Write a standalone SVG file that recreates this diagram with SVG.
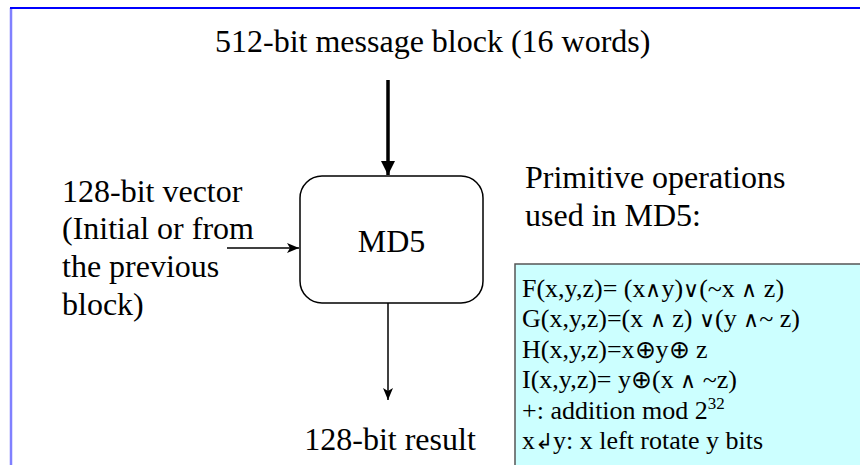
<svg xmlns="http://www.w3.org/2000/svg" width="860" height="465" viewBox="0 0 860 465">
<defs>
<style>
text{font-family:"Liberation Serif","Times New Roman",serif;fill:#000}
.big{font-size:32px}
.ops{font-size:26px}
.sym{font-family:"DejaVu Sans","Noto Sans",sans-serif;font-weight:200;font-size:22px}
.xor{font-family:"DejaVu Sans","Noto Sans",sans-serif;font-weight:200;font-size:25px}
.thin{stroke:#000;stroke-width:1.5;fill:none}
</style>
<marker id="thick" viewBox="0 0 10 10" refX="10" refY="5" markerWidth="4" markerHeight="4" orient="auto" markerUnits="strokeWidth">
<path d="M0,0 L10,5 L0,10 z" fill="#000"/>
</marker>
<marker id="stealth" viewBox="0 0 12 10" refX="12" refY="5" markerWidth="8" markerHeight="6.7" orient="auto" markerUnits="strokeWidth">
<path d="M0,0 L12,5 L0,10 L3,5 z" fill="#000"/>
</marker>
</defs>
<rect width="860" height="465" fill="#fff"/>
<g id="frame">
<line x1="11" y1="8" x2="11" y2="465" stroke="#8080ff" stroke-width="2.5"/>
<line x1="10" y1="8" x2="860" y2="8" stroke="#0000ff" stroke-width="2"/>
</g>
<g id="title">
<text class="big" x="215" y="52">512-bit message block (16 words)</text>
</g>
<g id="vector-label">
<text class="big" x="62" y="202">128-bit vector</text>
<text class="big" x="62" y="239">(Initial or from</text>
<text class="big" x="62" y="277">the previous</text>
<text class="big" x="62" y="315">block)</text>
</g>
<g id="md5">
<rect x="300" y="176" width="183" height="127" rx="22" ry="22" fill="#fff" stroke="#000" stroke-width="1.5"/>
<text class="big" x="391.5" y="252" text-anchor="middle">MD5</text>
</g>
<g id="result">
<text class="big" x="390" y="450" text-anchor="middle">128-bit result</text>
</g>
<g id="primitive-label">
<text class="big" x="525" y="188">Primitive operations</text>
<text class="big" x="525" y="226">used in MD5:</text>
</g>
<g id="ops-box">
<rect x="515" y="264" width="350" height="210" fill="#ccffff" stroke="#555" stroke-width="1.5"/>
<text class="ops" x="522" y="297">F(x,y,z)= (x<tspan class="sym">∧</tspan>y)<tspan class="sym">∨</tspan>(~x <tspan class="sym">∧</tspan> z)</text>
<text class="ops" x="522" y="327">G(x,y,z)=(x <tspan class="sym">∧</tspan> z) <tspan class="sym">∨</tspan>(y <tspan class="sym">∧</tspan>~ z)</text>
<text class="ops" x="522" y="358">H(x,y,z)=x<tspan class="xor">⊕</tspan>y<tspan class="xor">⊕</tspan> z</text>
<text class="ops" x="522" y="388">I(x,y,z)= y<tspan class="xor">⊕</tspan>(x <tspan class="sym">∧</tspan> ~z)</text>
<text class="ops" x="522" y="419">+: addition mod 2<tspan font-size="17" dy="-10">32</tspan></text>
<text class="ops" x="522" y="449">x<tspan class="sym" font-size="18">↲</tspan>y: x left rotate y bits</text>
</g>
<g id="connectors">
<line x1="388" y1="80" x2="388" y2="175" stroke="#000" stroke-width="3.5" marker-end="url(#thick)"/>
<line class="thin" x1="227" y1="248" x2="299" y2="248" marker-end="url(#stealth)"/>
<line class="thin" x1="388" y1="303" x2="388" y2="400" marker-end="url(#stealth)"/>
</g>
</svg>
